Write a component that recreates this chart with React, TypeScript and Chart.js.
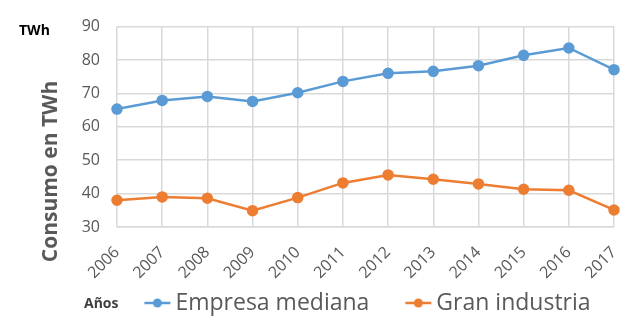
import React, { useEffect, useRef } from "react";
import { Chart, registerables } from "chart.js";

Chart.register(...registerables);

const years = ["2006","2007","2008","2009","2010","2011","2012","2013","2014","2015","2016","2017"];
const empresaMediana = [65.3, 67.9, 69.1, 67.6, 70.2, 73.6, 76.0, 76.6, 78.3, 81.4, 83.6, 77.1];
const granIndustria = [38.0, 39.0, 38.6, 34.9, 38.8, 43.2, 45.6, 44.3, 42.9, 41.3, 41.0, 35.1];
const seriesNames = ["Empresa mediana", "Gran industria"];
const seriesColors = ["#5B9BD5", "#ED7D31"];
const yTicks = [30, 40, 50, 60, 70, 80, 90];
const yTitle = "Consumo en TWh";
const unitLabel = "TWh";
const xTitle = "Años";

const FONT = "'Open Sans', sans-serif";

function makeMarker(color: string): HTMLCanvasElement {
  // legend marker: a short line with a dot, drawn in the right part of the image
  const c = document.createElement("canvas");
  c.width = 70;
  c.height = 10;
  const ctx = c.getContext("2d")!;
  const x0 = 43.25;
  const x1 = 69.25;
  const yy = 5;
  ctx.strokeStyle = color;
  ctx.lineWidth = 2.5;
  ctx.beginPath();
  ctx.moveTo(x0, yy);
  ctx.lineTo(x1, yy);
  ctx.stroke();
  ctx.fillStyle = color;
  ctx.beginPath();
  ctx.arc((x0 + x1) / 2, yy, 4.5, 0, Math.PI * 2);
  ctx.fill();
  return c;
}

export default function App() {
  const ref = useRef<HTMLCanvasElement>(null);
  useEffect(() => {
    document.body.style.margin = "0";
    const markers = seriesColors.map(makeMarker);
    const chart = new Chart(ref.current!, {
      type: "line",
      data: {
        labels: years,
        datasets: [empresaMediana, granIndustria].map((d, i) => ({
          label: seriesNames[i],
          data: d,
          borderColor: seriesColors[i],
          backgroundColor: seriesColors[i],
          borderWidth: 2.5,
          pointRadius: 4.5,
          pointHoverRadius: 4.5,
          tension: 0,
          clip: false as any,
        })),
      },
      options: {
        responsive: false,
        animation: false,
        layout: { padding: { left: 82, right: 4, top: 18, bottom: -8.5 } },
        scales: {
          x: {
            offset: false,
            afterFit: (axis: any) => {
              axis.height = 64.5;
              axis.paddingRight = 0;
              axis.paddingLeft = 0;
            },
            grid: { color: "#D9D9D9", lineWidth: 1.5, drawTicks: false },
            border: { color: "#D9D9D9", width: 1.5 },
            ticks: {
              minRotation: 45,
              maxRotation: 45,
              padding: 16,
              color: "#595959",
              font: { family: FONT, size: 16 },
            },
          },
          y: {
            min: 30,
            max: 90,
            afterBuildTicks: (axis: any) => {
              axis.ticks = yTicks.map((v) => ({ value: v }));
            },
            afterFit: (axis: any) => {
              axis.width = 35;
            },
            grid: { color: "#D9D9D9", lineWidth: 1.5, drawTicks: false },
            border: { display: false },
            ticks: {
              padding: 17,
              color: "#595959",
              font: { family: FONT, size: 16 },
            },
          },
        },
        plugins: {
          tooltip: { enabled: false },
          legend: {
            position: "bottom",
            fullSize: true,
            align: "center",
            labels: {
              usePointStyle: true,
              pointStyleWidth: 55.5,
              padding: 0,
              color: "#595959",
              font: { family: FONT, size: 23, lineHeight: 1 },
              generateLabels: () =>
                seriesNames.map((n, i) => ({
                  text: n,
                  fillStyle: seriesColors[i],
                  strokeStyle: seriesColors[i],
                  fontColor: "#595959",
                  lineWidth: 0,
                  pointStyle: markers[i],
                  datasetIndex: i,
                  hidden: false,
                })),
            },
          },
        },
      },
    });
    return () => chart.destroy();
  }, []);
  return (
    <div style={{ position: "absolute", left: 0, top: 0, width: 621, height: 316 }}>
      <canvas ref={ref} width={621} height={316} style={{ width: 621, height: 316, display: "block" }} />
      <div style={{ position: "absolute", left: 19, top: 22.6, font: `bold 14px/1 ${FONT}`, color: "#000" }}>{unitLabel}</div>
      <div style={{ position: "absolute", left: 84, top: 295.6, font: `bold 14px/1 ${FONT}`, color: "#404040" }}>{xTitle}</div>
      <div
        style={{
          position: "absolute",
          left: 49 - 120,
          top: 171 - 10.5,
          width: 240,
          height: 21,
          textAlign: "center",
          font: `bold 21px/1 ${FONT}`,
          color: "#595959",
          transform: "rotate(-90deg)",
          transformOrigin: "50% 50%",
          whiteSpace: "nowrap",
        }}
      >
        {yTitle}
      </div>
    </div>
  );
}
